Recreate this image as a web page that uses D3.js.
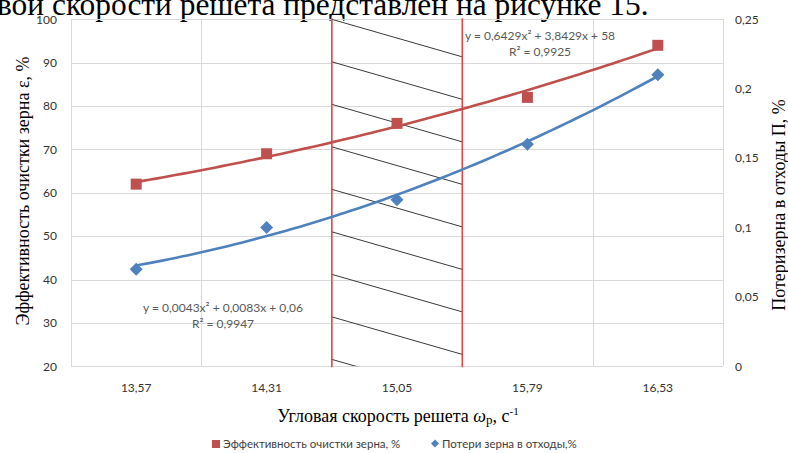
<!DOCTYPE html>
<html>
<head>
<meta charset="utf-8">
<script src="https://cdn.jsdelivr.net/npm/d3@7"></script>
<style>
  html, body { margin: 0; padding: 0; background: #fff; overflow: hidden; }
  svg { display: block; }
</style>
</head>
<body>
<svg id="chart" width="788" height="453"></svg>
<script>
// Angular speed of the sieve (category axis)
const categories = ["13,57", "14,31", "15,05", "15,79", "16,53"];
// Grain cleaning efficiency, % (left axis)
const efficiency = [62, 69, 76, 82, 94];
// Grain losses to waste, % (right axis)
const losses = [0.07, 0.10, 0.12, 0.16, 0.21];

// Axis ticks
const leftTicks = [20, 30, 40, 50, 60, 70, 80, 90, 100];
const rightTicks = [0, 0.05, 0.1, 0.15, 0.2, 0.25];
const rightTickLabels = ["0", "0,05", "0,1", "0,15", "0,2", "0,25"];

// Polynomial trend coefficients [a, b, c] for y = a·x² + b·x + c, x = 1..n
const effTrend = [0.6429, 3.8429, 58];
const lossTrend = [0.0043, 0.0083, 0.06];
const effTrendText = ["y = 0,6429x² + 3,8429x + 58", "R² = 0,9925"];
const lossTrendText = ["y = 0,0043x² + 0,0083x + 0,06", "R² = 0,9947"];

// Recommended range: between the boundaries of these categories
const zoneFrom = "14,31";
const zoneTo = "15,79";

const legendNames = ["Эффективность очистки зерна, %", "Потери зерна в отходы,%"];

const W = 788, H = 453;
const plot = { left: 71, right: 723, top: 19.3, bottom: 366.3 };
const RED = "#C0504D", BLUE = "#4F81BD";
const tickFont = "Lato, 'Open Sans', sans-serif";
const serif = "'Liberation Serif', 'DejaVu Serif', serif";

const svg = d3.select("#chart");

// Clipped-off paragraph text above the chart
svg.append("text")
  .attr("x", -3).attr("y", 14.5)
  .attr("font-family", serif).attr("font-size", 31.4)
  .attr("fill", "#000")
  .text("вой скорости решета представлен на рисунке 15.");

const x = d3.scaleBand().domain(categories).range([plot.left, plot.right]).paddingInner(0).paddingOuter(0);
const yL = d3.scaleLinear().domain([20, 100]).range([plot.bottom, plot.top]);
const yR = d3.scaleLinear().domain([0, 0.25]).range([plot.bottom, plot.top]);
const cx = c => x(c) + x.bandwidth() / 2;
const xi = d3.scaleLinear().domain([1, categories.length]).range([cx(categories[0]), cx(categories[categories.length - 1])]);

// Gridlines
const grid = svg.append("g").attr("stroke", "#d9d9d9").attr("stroke-width", 1).attr("shape-rendering", "crispEdges");
grid.selectAll("line.h").data(leftTicks).join("line")
  .attr("x1", plot.left).attr("x2", plot.right)
  .attr("y1", d => Math.round(yL(d)) + 0.5).attr("y2", d => Math.round(yL(d)) + 0.5);
const bounds = categories.map(c => x(c)).concat([plot.right]);
grid.selectAll("line.v").data(bounds).join("line")
  .attr("x1", d => Math.round(d) + 0.5).attr("x2", d => Math.round(d) + 0.5)
  .attr("y1", plot.top).attr("y2", plot.bottom);

// Hatched zone
const zx0 = x(zoneFrom) + x.bandwidth();
const zx1 = x(zoneTo);
svg.append("defs").append("clipPath").attr("id", "zoneClip")
  .append("rect").attr("x", zx0).attr("y", plot.top).attr("width", zx1 - zx0).attr("height", plot.bottom - plot.top);
const hatchStarts = d3.range(0, 9).map(i => 100 - i * 9.8);
const hatchDrop = 8.65;
svg.append("g").attr("clip-path", "url(#zoneClip)")
  .selectAll("line").data(hatchStarts).join("line")
  .attr("x1", zx0).attr("y1", d => yL(d))
  .attr("x2", zx1).attr("y2", d => yL(d - hatchDrop))
  .attr("stroke", "#3a3a3a").attr("stroke-width", 1);
svg.append("g").selectAll("line").data([zx0, zx1]).join("line")
  .attr("x1", d => d).attr("x2", d => d)
  .attr("y1", plot.top - 1).attr("y2", plot.bottom + 1)
  .attr("stroke", "#ff2020").attr("stroke-width", 1.3);

// Trend curves
function trendPoints(coef, yScale) {
  const n = categories.length;
  return d3.range(1, n + 0.0001, 0.05).map(t => [xi(t), yScale(coef[0] * t * t + coef[1] * t + coef[2])]);
}
const line = d3.line().curve(d3.curveLinear);
svg.append("path").attr("d", line(trendPoints(effTrend, yL)))
  .attr("fill", "none").attr("stroke", RED).attr("stroke-width", 2.6).attr("stroke-linecap", "round");
svg.append("path").attr("d", line(trendPoints(lossTrend, yR)))
  .attr("fill", "none").attr("stroke", BLUE).attr("stroke-width", 2.6).attr("stroke-linecap", "round");

// Markers
const sq = 11;
svg.append("g").selectAll("rect").data(efficiency).join("rect")
  .attr("x", (d, i) => cx(categories[i]) - sq / 2).attr("y", d => yL(d) - sq / 2)
  .attr("width", sq).attr("height", sq).attr("fill", RED);
const dm = 6.5;
svg.append("g").selectAll("path").data(losses).join("path")
  .attr("d", (d, i) => {
    const px = cx(categories[i]), py = yR(d);
    return `M${px},${py - dm}L${px + dm},${py}L${px},${py + dm}L${px - dm},${py}Z`;
  })
  .attr("fill", BLUE);

// Left axis labels
svg.append("g").selectAll("text").data(leftTicks).join("text")
  .attr("x", 57).attr("y", d => yL(d)).attr("dy", "0.35em")
  .attr("text-anchor", "end").attr("font-family", tickFont).attr("font-size", 12).attr("fill", "#333")
  .text(d => d);
// Right axis labels
svg.append("g").selectAll("text").data(rightTicks).join("text")
  .attr("x", 735).attr("y", d => yR(d)).attr("dy", "0.35em")
  .attr("text-anchor", "start").attr("font-family", tickFont).attr("font-size", 12).attr("fill", "#333")
  .text((d, i) => rightTickLabels[i]);
// Category labels
svg.append("g").selectAll("text").data(categories).join("text")
  .attr("x", d => cx(d)).attr("y", 388).attr("dy", "0.35em")
  .attr("text-anchor", "middle").attr("font-family", tickFont).attr("font-size", 12).attr("fill", "#333")
  .text(d => d);

// Trend equations
function eqLabel(lines, cxp, y0) {
  svg.append("g").selectAll("text").data(lines).join("text")
    .attr("x", cxp).attr("y", (d, i) => y0 + i * 15.5)
    .attr("text-anchor", "middle").attr("font-family", tickFont).attr("font-size", 12).attr("fill", "#595959")
    .text(d => d);
}
eqLabel(effTrendText, 540, 40);
eqLabel(lossTrendText, 223, 312);

// Axis titles
svg.append("text")
  .attr("transform", `translate(29,191) rotate(-90)`)
  .attr("text-anchor", "middle").attr("font-family", serif).attr("font-size", 18).attr("fill", "#000")
  .text("Эффективность очистки зерна ε, %");
svg.append("text")
  .attr("transform", `translate(785,205) rotate(-90)`)
  .attr("text-anchor", "middle").attr("font-family", serif).attr("font-size", 18).attr("fill", "#000")
  .text("Потеризерна в отходы П, %");
const xt = svg.append("text")
  .attr("x", 398).attr("y", 422)
  .attr("text-anchor", "middle").attr("font-family", serif).attr("font-size", 18).attr("fill", "#000");
xt.append("tspan").text("Угловая скорость решета ");
xt.append("tspan").attr("font-style", "italic").text("ω");
xt.append("tspan").attr("font-size", 13).attr("dy", 2).text("р");
xt.append("tspan").attr("dy", -2).text(", с");
xt.append("tspan").attr("font-size", 11).attr("dy", -7).text("-1");

// Legend
const lg = svg.append("g").attr("font-family", tickFont).attr("font-size", 11.5).attr("fill", "#404040");
lg.append("rect").attr("x", 212).attr("y", 440).attr("width", 8).attr("height", 8).attr("fill", RED);
lg.append("text").attr("x", 223).attr("y", 444).attr("dy", "0.35em").text(legendNames[0]);
lg.append("path").attr("d", "M435,439.5L439,443.5L435,447.5L431,443.5Z").attr("fill", BLUE);
lg.append("text").attr("x", 442).attr("y", 444).attr("dy", "0.35em").text(legendNames[1]);
</script>
</body>
</html>
